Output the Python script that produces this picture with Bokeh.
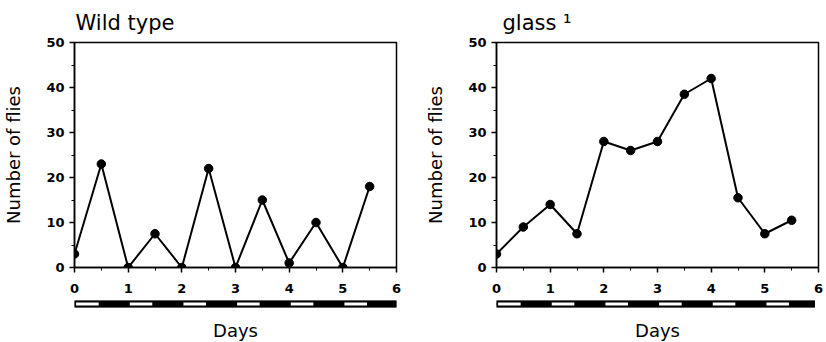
from bokeh.plotting import figure
from bokeh.models import FixedTicker, Range1d
from bokeh.layouts import row, column
from bokeh.embed import file_html
from bokeh.resources import INLINE

# ---- data ----
days = [0, 0.5, 1, 1.5, 2, 2.5, 3, 3.5, 4, 4.5, 5, 5.5]
wild_type = [3, 23, 0, 7.5, 0, 22, 0, 15, 1, 10, 0, 18]
glass1 = [3, 9, 14, 7.5, 28, 26, 28, 38.5, 42, 15.5, 7.5, 10.5]

x_ticks = [0, 1, 2, 3, 4, 5, 6]
x_minor = [0.5, 1.5, 2.5, 3.5, 4.5, 5.5]
y_ticks = [0, 10, 20, 30, 40, 50]
y_minor = [5, 15, 25, 35, 45]

light_start = [0.03, 1.03, 2.03, 3.03, 4.03, 5.03]
light_end = [0.45, 1.45, 2.45, 3.45, 4.45, 5.45]

titles = ["Wild type", "glass \u00b9"]
x_label = "Days"
y_label = "Number of flies"

FONT = "DejaVu Sans"


def make_panel(title, values, border_left, border_right, title_offset):
    xr = Range1d(x_ticks[0], x_ticks[-1])
    p = figure(
        title=title,
        x_range=xr,
        y_range=Range1d(y_ticks[0], y_ticks[-1]),
        frame_width=322,
        frame_height=225,
        min_border_left=border_left,
        min_border_right=border_right,
        min_border_top=40,
        min_border_bottom=31,
        output_backend="svg",
        toolbar_location=None,
    )
    p.title.text_font = FONT
    p.title.text_font_style = "normal"
    p.title.text_font_size = "21px"
    p.title.text_color = "black"
    p.title.offset = title_offset
    p.title.standoff = 16

    p.outline_line_color = "black"
    p.outline_line_width = 1.5
    p.outline_line_alpha = 1.0
    p.xgrid.visible = False
    p.ygrid.visible = False
    p.background_fill_color = "white"
    p.border_fill_color = "white"

    p.xaxis.ticker = FixedTicker(ticks=x_ticks, minor_ticks=x_minor)
    p.yaxis.ticker = FixedTicker(ticks=y_ticks, minor_ticks=y_minor)
    for ax in (p.xaxis, p.yaxis):
        ax.axis_line_width = 1.5
        ax.axis_line_color = "black"
        ax.major_tick_line_width = 1.5
        ax.major_tick_line_color = "black"
        ax.minor_tick_line_color = "black"
        ax.minor_tick_line_width = 1
        ax.major_tick_in = 0
        ax.major_tick_out = 5
        ax.minor_tick_in = 0
        ax.minor_tick_out = 3
        ax.major_label_text_font = FONT
        ax.major_label_text_font_style = "bold"
        ax.major_label_text_font_size = "13px"
        ax.major_label_text_color = "black"
    p.xaxis.major_label_standoff = 11
    p.yaxis.major_label_standoff = 5
    p.yaxis.axis_label = y_label
    p.yaxis.axis_label_text_font = FONT
    p.yaxis.axis_label_text_font_style = "normal"
    p.yaxis.axis_label_text_font_size = "18px"
    p.yaxis.axis_label_text_color = "black"
    p.yaxis.axis_label_standoff = 19

    p.line(days, values, line_color="black", line_width=2)
    p.scatter(days, values, size=8.5, marker="circle", fill_color="black", line_color="black")

    b = figure(
        x_range=xr,
        y_range=Range1d(0, 1),
        frame_width=322,
        frame_height=7,
        min_border_left=border_left,
        min_border_right=border_right,
        min_border_top=2,
        min_border_bottom=26,
        output_backend="svg",
        toolbar_location=None,
    )
    b.outline_line_color = None
    b.xgrid.visible = False
    b.ygrid.visible = False
    b.yaxis.visible = False
    b.xaxis.ticker = FixedTicker(ticks=[])
    b.xaxis.axis_line_color = None
    b.xaxis.major_tick_line_color = None
    b.xaxis.minor_tick_line_color = None
    b.xaxis.axis_label = x_label
    b.xaxis.axis_label_text_font = FONT
    b.xaxis.axis_label_text_font_style = "normal"
    b.xaxis.axis_label_text_font_size = "18px"
    b.xaxis.axis_label_text_color = "black"
    b.xaxis.axis_label_standoff = 12
    b.quad(left=[x_ticks[0]], right=[x_ticks[-1]], bottom=[0], top=[1],
           fill_color="black", line_color="black")
    b.quad(left=light_start, right=light_end, bottom=0.3, top=0.7,
           fill_color="white", line_color=None)
    return column(p, b)


left = make_panel(titles[0], wild_type, 68, 26, 1)
right = make_panel(titles[1], glass1, 65, 6, 6)
layout = row(left, right)

open("out.html", "w").write(file_html(layout, INLINE))
